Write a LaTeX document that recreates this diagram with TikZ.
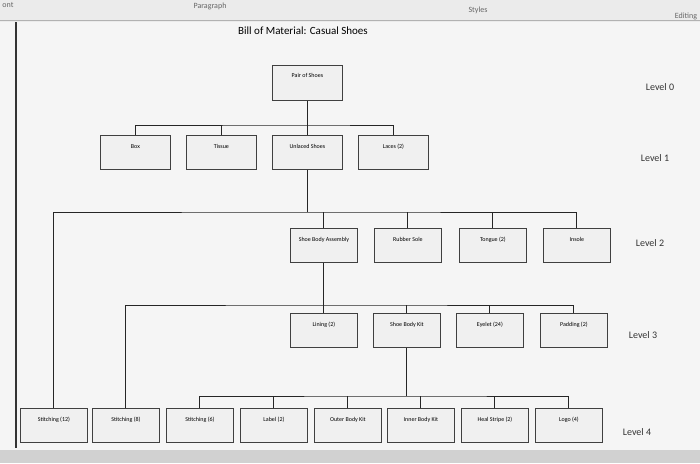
\documentclass[tikz,border=0pt]{standalone}
\usepackage{fontspec}
\setmainfont{Carlito}
\begin{document}
\begin{tikzpicture}[x=1pt,y=-1pt,
  bx/.style={draw=black!75,fill=black!6,line width=0.8pt,minimum width=67pt,minimum height=34pt,anchor=north west,inner sep=0pt,font=\fontsize{6}{7}\selectfont,text depth=0pt},
  ln/.style={draw=black!85,line width=1pt},
  lvl/.style={font=\fontsize{10}{12}\selectfont,text=black!80},
  tb/.style={font=\fontsize{8}{10}\selectfont,text=black!60}]
\useasboundingbox (0,0) rectangle (700,463);
\fill[black!8] (0,0) rectangle (700,463);
\fill[black!4] (0,22) rectangle (700,450);
\draw[black!30] (0,20) -- (700,20);
\draw[line width=1.5pt,black!80] (16,22) -- (16,448);
\fill[black!18] (0,450) rectangle (700,463);
\node[tb] (t1) at (8,5) {ont};
\node[tb] (t2) at (210,6) {Paragraph};
\node[tb] (t3) at (478,10) {Styles};
\node[tb] (t4) at (686,16) {Editing};
\node[font=\fontsize{11}{13}\selectfont] (title) at (303,31) {Bill of Material: Casual Shoes};
% boxes
\node[bx,minimum width=70pt,minimum height=35pt] (p) at (272,65) {\raisebox{14pt}{Pair of Shoes}};
\foreach \n/\x/\t in {box/100/Box,tis/186/Tissue,uns/272/Unlaced Shoes,lac/358/Laces (2)}
  \node[bx,minimum width=70pt] (\n) at (\x,135) {\raisebox{12pt}{\t}};
\foreach \n/\x/\t in {sba/290/Shoe Body Assembly,rub/374/Rubber Sole,ton/459/Tongue (2),ins/543/Insole}
  \node[bx] (\n) at (\x,228) {\raisebox{12pt}{\t}};
\foreach \n/\x/\t in {lin/290/Lining (2),sbk/373/Shoe Body Kit,eye/456/Eyelet (24),pad/540/Padding (2)}
  \node[bx] (\n) at (\x,313) {\raisebox{12pt}{\t}};
\foreach \n/\x/\t in {s12/20/Stitching (12),s8/92/Stitching (8),s6/166/Stitching (6),lab/240/Label (2),out/314/Outer Body Kit,inn/387/Inner Body Kit,hea/461/Heal Stripe (2),log/535/Logo (4)}
  \node[bx] (\n) at (\x,408) {\raisebox{12pt}{\t}};
% connectors
\coordinate (b1) at (p.south |- 0,125);
\draw[ln] (p.south) -- (b1);
\draw[ln] (box.north) |- (b1) -| (lac.north);
\draw[ln] (tis.north) -- (tis.north |- b1);
\draw[ln] (b1) -- (uns.north);
\coordinate (b2) at (uns.south |- 0,212);
\draw[ln] (uns.south) -- (b2);
\draw[ln] (s12.north) |- (b2) -| (ins.north);
\foreach \n in {sba,rub,ton} \draw[ln] (\n.north) -- (\n.north |- b2);
\coordinate (b3) at (sba.south |- 0,305);
\draw[ln] (sba.south) -- (lin.north);
\draw[ln] (s8.north) |- (b3) -| (pad.north);
\foreach \n in {sbk,eye} \draw[ln] (\n.north) -- (\n.north |- b3);
\coordinate (b4) at (sbk.south |- 0,396);
\draw[ln] (sbk.south) -- (b4);
\draw[ln] (s6.north) |- (b4) -| (log.north);
\foreach \n in {lab,out,inn,hea} \draw[ln] (\n.north) -- (\n.north |- b4);
% levels
\node[lvl] (l0) at (660,87) {Level 0};
\node[lvl] (l1) at (655,158) {Level 1};
\node[lvl] (l2) at (650,243) {Level 2};
\node[lvl] (l3) at (643,335) {Level 3};
\node[lvl] (l4) at (637,432) {Level 4};
\end{tikzpicture}
\end{document}
